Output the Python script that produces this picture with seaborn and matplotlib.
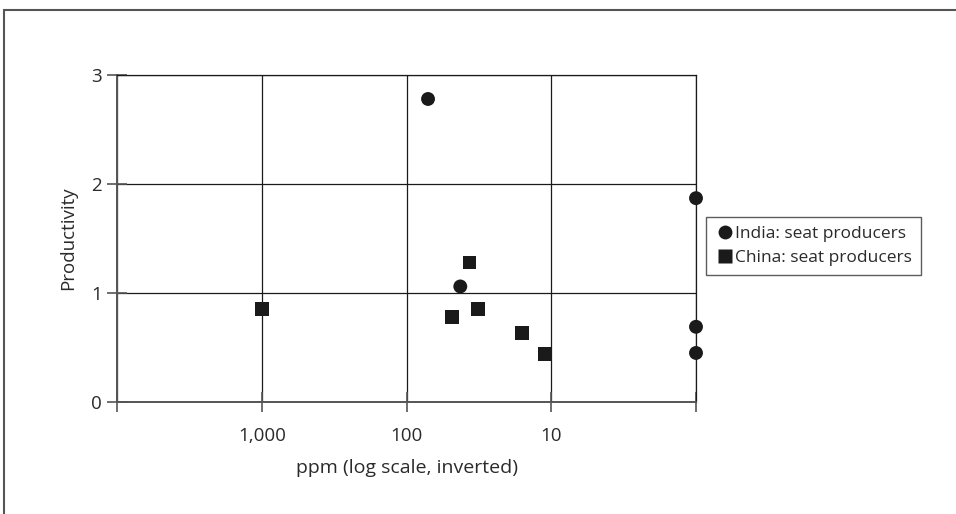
import pandas as pd
import matplotlib.pyplot as plt
import matplotlib.ticker as mticker
from matplotlib.patches import Rectangle
import seaborn as sns

# data
india_ppm = [71, 42.5, 1, 1, 1]
india_prod = [2.78, 1.06, 1.87, 0.69, 0.45]
china_ppm = [1000, 48.7, 36.7, 32.2, 16.0, 11.0]
china_prod = [0.85, 0.78, 1.28, 0.85, 0.63, 0.44]
series_names = ['India: seat producers', 'China: seat producers']
x_ticks = [10000, 1000, 100, 10, 1]
x_tick_labels = ['', '1,000', '100', '10', '']
y_ticks = [0, 1, 2, 3]

df = pd.concat([
    pd.DataFrame({'ppm': india_ppm, 'prod': india_prod, 'series': series_names[0]}),
    pd.DataFrame({'ppm': china_ppm, 'prod': china_prod, 'series': series_names[1]}),
])

sns.set_style('white')
plt.rcParams['font.family'] = ['Open Sans', 'DejaVu Sans']

fig = plt.figure(figsize=(9.56, 5.14), dpi=100)
ax = fig.add_axes([117 / 956, 1 - 402 / 514, 579 / 956, 327 / 514])

sns.scatterplot(data=df, x='ppm', y='prod', style='series', hue='series',
                markers={series_names[0]: 'o', series_names[1]: 's'},
                palette={series_names[0]: '#1a1a1a', series_names[1]: '#1a1a1a'},
                s=100, edgecolor='none', clip_on=False, ax=ax, zorder=5)

ax.set_xscale('log')
ax.set_xlim(10000, 1)
ax.set_ylim(0, 3)
ax.xaxis.set_major_locator(mticker.FixedLocator(x_ticks))
ax.xaxis.set_major_formatter(mticker.FixedFormatter(x_tick_labels))
ax.xaxis.set_minor_locator(mticker.NullLocator())
ax.set_yticks(y_ticks)

ax.grid(True, color='#1a1a1a', linewidth=0.9)
for side in ['top', 'right']:
    ax.spines[side].set_color('#1a1a1a')
    ax.spines[side].set_linewidth(0.9)
for side in ['left', 'bottom']:
    ax.spines[side].set_color('#555555')
    ax.spines[side].set_linewidth(1.4)

ax.tick_params(axis='both', bottom=True, left=True, direction='inout',
               length=14, width=1.2, color='#555555', labelsize=13.5,
               labelcolor='#2a2a2a')
ax.tick_params(axis='x', pad=11)
ax.tick_params(axis='y', pad=4)

ax.set_xlabel('ppm (log scale, inverted)', fontsize=14, color='#2a2a2a', labelpad=10)
ax.set_ylabel('Productivity', fontsize=13.5, color='#2a2a2a', labelpad=10)

leg = ax.legend(loc='center left', bbox_to_anchor=(1.017, 0.477), fontsize=12.5,
                frameon=True, fancybox=False, edgecolor='#333333',
                borderaxespad=0.0, handletextpad=0.0, borderpad=0.5,
                labelspacing=0.45, handlelength=1.2, markerscale=1.0)
leg.get_frame().set_linewidth(1.0)
for t in leg.get_texts():
    t.set_color('#2a2a2a')

# outer frame of the original figure
fig.patches.append(Rectangle((4 / 956, -0.05), 1.2, 1 - 10 / 514 + 0.05,
                             transform=fig.transFigure, fill=False,
                             edgecolor='#555555', linewidth=1.5))

fig.savefig('out.png', dpi=100)
